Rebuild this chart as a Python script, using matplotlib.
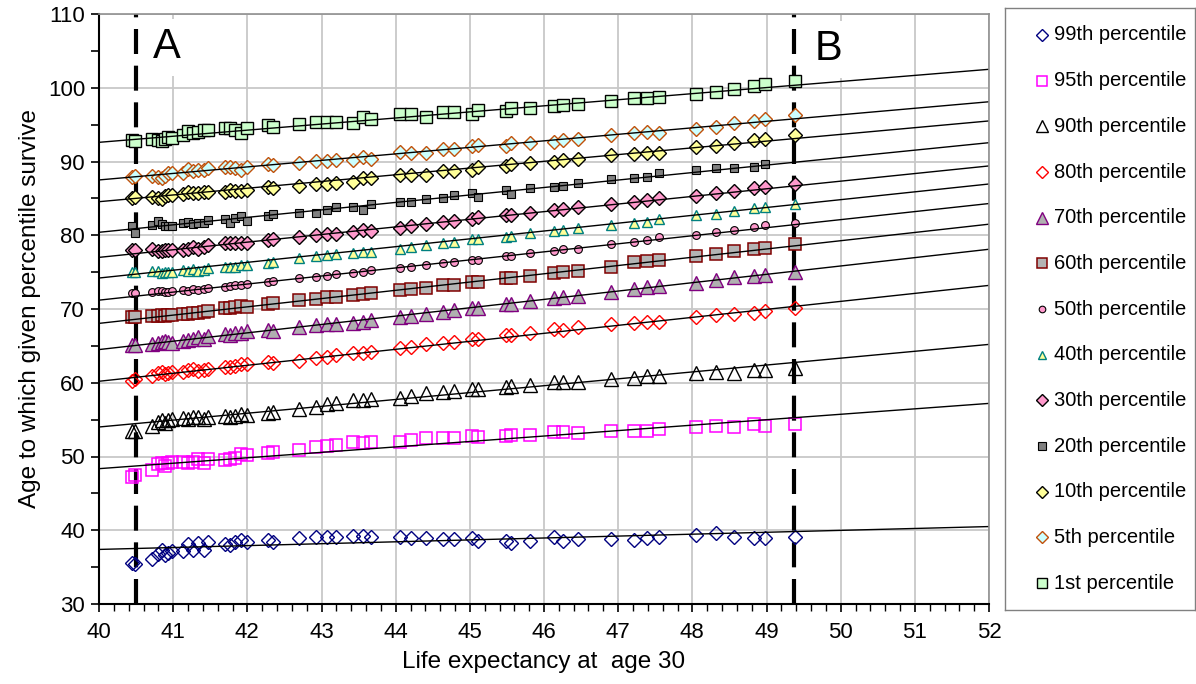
import numpy as np
import matplotlib
matplotlib.use('Agg')
import matplotlib.pyplot as plt
from matplotlib.ticker import MultipleLocator

plt.rcParams['font.family'] = ['Liberation Sans', 'DejaVu Sans']

# ---------------- data ----------------
life_exp = [40.44, 40.49, 40.71, 40.80, 40.85, 40.89, 40.93, 40.98, 41.13, 41.20,
            41.27, 41.34, 41.41, 41.47, 41.70, 41.76, 41.83, 41.92, 42.00, 42.28,
            42.35, 42.70, 42.93, 43.07,
            43.20, 43.43, 43.56, 43.67, 44.06, 44.21, 44.41, 44.64, 44.78, 45.03,
            45.11, 45.49, 45.56, 45.81, 46.13, 46.26, 46.46, 46.91, 47.22, 47.39,
            47.55, 48.05, 48.32, 48.56, 48.83, 48.98, 49.38]

labels = ['99th percentile', '95th percentile', '90th percentile', '80th percentile',
          '70th percentile', '60th percentile', '50th percentile', '40th percentile',
          '30th percentile', '20th percentile', '10th percentile', '5th percentile',
          '1st percentile']

p99 = [35.6, 35.4, 36.05, 36.8, 37.3, 36.65, 36.9, 37.2, 37.2, 38.1, 37.3, 38.3, 37.3, 38.45,
       38.2, 37.95, 38.45, 38.7, 38.45, 38.7, 38.45, 38.9, 39.15, 39.15,
       39.05, 39.2, 39.2, 39.15, 39.15, 38.9, 38.9, 38.75, 38.75, 38.9, 38.6, 38.6, 38.3, 38.6,
       39.05, 38.6, 38.75, 38.75, 38.7, 38.9, 39.15, 39.35, 39.6, 39.15, 38.9, 38.9, 39.15]
p95 = [47.25, 47.5, 48.15, 49.0, 49.15, 48.7, 49.15, 49.3, 49.3, 49.15, 49.3, 49.6, 49.15, 49.6,
       49.5, 49.6, 49.75, 50.35, 50.2, 50.5, 50.65, 50.9, 51.25, 51.4,
       51.55, 51.9, 51.8, 51.9, 52.0, 52.25, 52.45, 52.45, 52.45, 52.8, 52.6, 52.8, 52.9, 52.9,
       53.35, 53.35, 53.2, 53.5, 53.45, 53.45, 53.7, 53.95, 54.15, 53.95, 54.4, 54.15, 54.4]
p90 = [53.45, 53.45, 54.15, 54.7, 55.0, 54.5, 54.95, 55.05, 55.2, 55.05, 55.3, 55.3, 55.05, 55.3,
       55.5, 55.4, 55.5, 55.75, 55.6, 55.95, 56.1, 56.4, 56.7, 57.1,
       57.3, 57.65, 57.65, 57.75, 58.0, 58.2, 58.55, 58.8, 58.9, 59.1, 59.1, 59.45, 59.55, 59.7,
       60.15, 60.1, 60.15, 60.45, 60.6, 60.85, 60.85, 61.35, 61.5, 61.35, 61.75, 61.75, 61.95]
p80 = [60.3, 60.45, 60.85, 61.3, 61.5, 61.2, 61.3, 61.5, 61.4, 61.75, 61.8, 61.65, 61.7, 61.8,
       62.1, 62.2, 62.25, 62.55, 62.5, 62.85, 62.7, 63.0, 63.3, 63.55,
       63.75, 64.1, 64.0, 64.2, 64.65, 64.8, 65.25, 65.35, 65.55, 66.0, 65.9, 66.5, 66.5, 66.8,
       67.25, 67.15, 67.5, 67.95, 68.1, 68.3, 68.3, 68.95, 69.2, 69.3, 69.4, 69.7, 70.1]
p70 = [65.1, 65.1, 65.25, 65.45, 65.55, 65.6, 65.5, 65.45, 65.7, 65.8, 65.9, 66.15, 66.0, 66.35,
       66.6, 66.5, 66.7, 66.8, 66.95, 67.15, 67.05, 67.6, 67.85, 67.95,
       67.95, 68.15, 68.3, 68.5, 68.85, 69.05, 69.3, 69.6, 69.85, 70.2, 70.2, 70.7, 70.7, 71.1,
       71.45, 71.6, 71.75, 72.35, 72.65, 73.05, 73.1, 73.55, 74.0, 74.3, 74.45, 74.6, 75.05]
p60 = [68.9, 68.9, 69.05, 69.05, 69.15, 69.1, 69.2, 69.2, 69.3, 69.3, 69.5, 69.5, 69.6, 69.75,
       70.1, 70.2, 70.3, 70.4, 70.3, 70.7, 70.8, 71.2, 71.3, 71.6,
       71.6, 71.9, 72.05, 72.2, 72.55, 72.65, 72.8, 73.25, 73.25, 73.7, 73.7, 74.15, 74.15, 74.45,
       74.9, 75.05, 75.2, 75.75, 76.35, 76.5, 76.65, 77.2, 77.5, 77.9, 78.1, 78.3, 78.8]
p50 = [72.2, 72.2, 72.25, 72.5, 72.4, 72.3, 72.35, 72.4, 72.6, 72.5, 72.7, 72.6, 72.7, 72.8,
       73.05, 73.1, 73.25, 73.25, 73.4, 73.7, 73.85, 74.15, 74.4, 74.5,
       74.75, 74.9, 75.05, 75.3, 75.5, 75.75, 75.95, 76.2, 76.35, 76.65, 76.65, 77.2, 77.2, 77.6,
       77.9, 78.1, 78.2, 78.8, 79.1, 79.35, 79.7, 80.1, 80.4, 80.7, 81.15, 81.4, 81.6]
p40 = [75.05, 75.05, 75.2, 75.2, 74.9, 75.05, 75.05, 75.05, 75.3, 75.2, 75.4, 75.2, 75.35, 75.5,
       75.65, 75.75, 75.75, 75.95, 75.95, 76.3, 76.4, 76.85, 77.2, 77.3,
       77.45, 77.6, 77.75, 77.75, 78.2, 78.35, 78.7, 79.0, 79.1, 79.45, 79.45, 79.8, 79.9, 80.25,
       80.6, 80.7, 80.95, 81.4, 81.6, 81.75, 82.2, 82.75, 82.9, 83.3, 83.65, 83.85, 84.25]
p30 = [78.0, 78.0, 78.2, 77.9, 77.8, 78.0, 78.05, 78.0, 78.0, 78.2, 78.45, 78.2, 78.4, 78.7,
       79.0, 78.9, 79.0, 79.0, 78.9, 79.35, 79.45, 79.8, 80.0, 80.15,
       80.2, 80.5, 80.7, 80.6, 81.05, 81.25, 81.5, 81.75, 81.95, 82.15, 82.45, 82.75, 82.75, 83.05,
       83.4, 83.6, 83.8, 84.25, 84.55, 84.75, 85.0, 85.3, 85.7, 86.0, 86.35, 86.5, 86.95]
p20 = [81.2, 80.3, 81.4, 81.95, 81.5, 81.25, 81.2, 81.3, 81.6, 81.85, 81.5, 81.6, 81.7, 82.05,
       82.15, 81.6, 82.3, 82.6, 81.9, 82.6, 82.9, 83.05, 83.05, 83.4,
       83.85, 83.85, 83.4, 84.3, 84.55, 84.55, 84.85, 85.1, 85.45, 85.75, 85.2, 86.2, 85.55, 86.35,
       86.5, 86.65, 87.1, 87.6, 87.7, 87.95, 88.5, 88.8, 89.15, 89.15, 89.3, 89.65, np.nan]
p10 = [85.1, 85.2, 85.2, 85.0, 84.9, 85.3, 85.45, 85.4, 85.6, 85.8, 85.7, 85.7, 85.8, 85.8,
       85.9, 86.1, 86.0, 86.0, 86.2, 86.5, 86.4, 86.7, 86.95, 86.95,
       87.05, 87.25, 87.7, 87.7, 88.15, 88.15, 88.15, 88.7, 88.7, 88.9, 89.2, 89.4, 89.65, 89.75,
       89.95, 90.2, 90.3, 90.9, 91.0, 91.2, 91.2, 91.9, 92.1, 92.45, 92.9, 93.05, 93.6]
p5 = [87.9, 88.0, 88.0, 87.85, 87.7, 88.1, 88.4, 88.4, 88.4, 89.0, 88.7, 88.8, 88.9, 89.1,
      89.2, 89.3, 89.1, 88.9, 89.3, 89.7, 89.5, 89.8, 90.1, 90.1,
      90.2, 90.2, 90.65, 90.4, 91.3, 91.2, 91.2, 91.65, 91.65, 92.1, 92.2, 92.1, 92.55, 92.45,
      92.7, 92.9, 93.0, 93.6, 93.8, 94.0, 93.9, 94.35, 94.7, 95.25, 95.5, 95.7, 96.3]
p1 = [92.9, 92.8, 93.1, 92.9, 92.8, 93.1, 93.3, 93.2, 93.6, 94.1, 93.9, 94.0, 94.3, 94.3,
      94.5, 94.6, 94.3, 93.9, 94.5, 95.0, 94.7, 95.1, 95.3, 95.3,
      95.4, 95.2, 96.0, 95.7, 96.5, 96.5, 96.0, 96.7, 96.7, 96.4, 97.0, 96.8, 97.3, 97.2,
      97.5, 97.7, 97.75, 98.2, 98.6, 98.6, 98.8, 99.2, 99.4, 99.8, 100.2, 100.5, 100.9]

series = [p99, p95, p90, p80, p70, p60, p50, p40, p30, p20, p10, p5, p1]

# linear trend lines (value at x=40 and at x=52)
trend_x = [40, 52]
trend_start = [37.4, 48.35, 54.0, 60.2, 64.5, 68.05, 71.2, 74.2, 77.0, 80.4, 84.55, 87.5, 92.6]
trend_end = [40.5, 57.2, 65.2, 73.2, 78.1, 81.5, 84.3, 86.95, 89.4, 92.55, 95.5, 98.1, 102.5]

# vertical reference lines A and B
ref_x = [40.5, 49.37]
ref_labels = ['A', 'B']
ref_label_pos = [(40.92, 105.5), (49.84, 105.2)]

# ---------------- styles ----------------
styles = [
    dict(marker='D', ms=7.2, mfc='none', mec='#000080', mew=1.0),
    dict(marker='s', ms=8.2, mfc='none', mec='#FF00FF', mew=1.1),
    dict(marker='^', ms=9.8, mfc='none', mec='#000000', mew=1.0),
    dict(marker='D', ms=7.2, mfc='none', mec='#FF0000', mew=1.0),
    dict(marker='^', ms=9.8, mfc='#B0B0B0', mec='#800080', mew=1.0),
    dict(marker='s', ms=8.7, mfc='#B4B4B4', mec='#800000', mew=1.1),
    dict(marker='o', ms=5.6, mfc='#FF99CC', mec='#000000', mew=0.8),
    dict(marker='^', ms=7.6, mfc='#FFFF99', mec='#008080', mew=1.0),
    dict(marker='D', ms=7.6, mfc='#FF99CC', mec='#000000', mew=1.0),
    dict(marker='s', ms=6.3, mfc='#808080', mec='#000000', mew=0.8),
    dict(marker='D', ms=7.6, mfc='#FFFF99', mec='#000000', mew=1.0),
    dict(marker='D', ms=7.6, mfc='#CCFFFF', mec='#C0500A', mew=1.0),
    dict(marker='s', ms=8.7, mfc='#CCFFCC', mec='#000000', mew=1.0),
]

W, H = 1196, 684
fig = plt.figure(figsize=(W / 100, H / 100), dpi=100)
ax = fig.add_axes([99 / W, 1 - 604 / H, 890 / W, 590 / H])

ax.set_xlim(40, 52)
ax.set_ylim(30, 110)
ax.xaxis.set_major_locator(MultipleLocator(1))
ax.xaxis.set_minor_locator(MultipleLocator(0.2))
ax.yaxis.set_major_locator(MultipleLocator(10))
ax.yaxis.set_minor_locator(MultipleLocator(5))
ax.grid(True, which='major', color='#C8C8C8', linewidth=1.3, zorder=0)
ax.set_axisbelow(True)

ax.tick_params(axis='both', which='major', direction='out', length=6, width=1.2,
               labelsize=16, colors='#000000')
ax.tick_params(axis='x', which='minor', direction='out', length=5, width=1.0)
ax.tick_params(axis='y', which='minor', direction='out', length=6, width=1.2)
ax.tick_params(axis='x', which='major', pad=7)
ax.tick_params(axis='y', which='major', pad=4)
for s in ['top', 'right']:
    ax.spines[s].set_color('#909090')
    ax.spines[s].set_linewidth(1.2)
for s in ['left', 'bottom']:
    ax.spines[s].set_color('#000000')
    ax.spines[s].set_linewidth(1.5)

# reference dashed lines
for xv in ref_x:
    ax.axvline(xv, color='black', linewidth=3, linestyle=(0, (6, 2.8)), zorder=1.5)
for lab, (xv, yv) in zip(ref_labels, ref_label_pos):
    ax.text(xv, yv, lab, fontsize=30, ha='center', va='center', zorder=1.2,
            bbox=dict(facecolor='white', edgecolor='none', pad=6))

x = np.array(life_exp)
for vals, st in zip(series, styles):
    ax.plot(x, np.array(vals), linestyle='none', zorder=2, **st)
for ys, ye in zip(trend_start, trend_end):
    ax.plot(trend_x, [ys, ye], color='black', linewidth=1.0, zorder=2.5)

ax.set_xlabel('Life expectancy at  age 30', fontsize=17.5, labelpad=6)
ax.set_ylabel('Age to which given percentile survive', fontsize=17.5, labelpad=5)

# legend box (drawn manually to match original layout)
lx0, ly0, lw, lh = 1005, 8, 190, 602
lax = fig.add_axes([lx0 / W, 1 - (ly0 + lh) / H, lw / W, lh / H])
lax.set_xlim(0, lw)
lax.set_ylim(lh, 0)
lax.set_xticks([])
lax.set_yticks([])
for s in lax.spines.values():
    s.set_color('#808080')
    s.set_linewidth(1.0)
leg_scale = 0.85
for i, (lab, st) in enumerate(zip(labels, styles)):
    yy = 27 + i * 45.67
    st2 = dict(st)
    st2['ms'] = st['ms'] * leg_scale
    lax.plot([37], [yy], linestyle='none', **st2)
    lax.text(49, yy, lab, fontsize=14.5, va='center', ha='left')

fig.savefig('out.png', dpi=100)
